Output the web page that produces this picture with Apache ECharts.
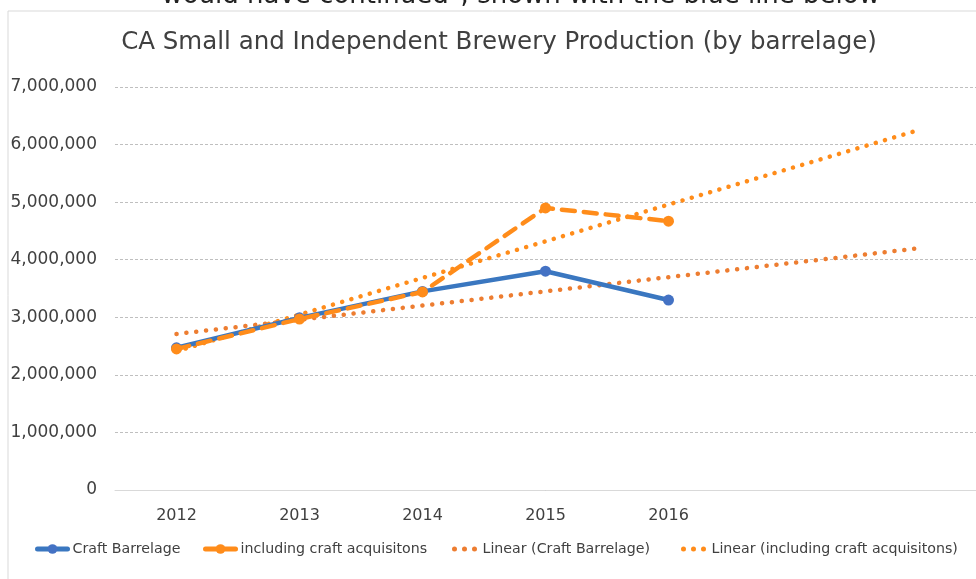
<!DOCTYPE html>
<html>
<head>
<meta charset="utf-8">
<script src="https://cdn.jsdelivr.net/npm/echarts@6/dist/echarts.min.js"></script>
<style>
  html, body { margin: 0; padding: 0; background: #fff; }
  #chart { width: 976px; height: 579px; }
</style>
</head>
<body>
<div id="chart"></div>
<script>
// data
const years = ['2012', '2013', '2014', '2015', '2016', '', ''];
const craftBarrelage = [2470000, 2990000, 3450000, 3800000, 3300000];
const withAcquisitions = [2450000, 2970000, 3440000, 4900000, 4670000];
// trend lines: end points at 2012 and at the 7th category slot
const craftTrend = [2710000, null, null, null, null, null, 4190000];
const acqTrend = [2410000, null, null, null, null, null, 6230000];
const yMin = 0, yMax = 7000000, yStep = 1000000;

const font = 'DejaVu Sans';
const dots = 'path://M0,3a3,3 0 1,0 6,0a3,3 0 1,0 -6,0M12,3a3,3 0 1,0 6,0a3,3 0 1,0 -6,0M24,3a3,3 0 1,0 6,0a3,3 0 1,0 -6,0';
const legendText = { fontFamily: font, fontSize: 14.2, color: '#404040' };

// one legend per entry so each sits where the reference puts it
function legendAt(left, item, w, h) {
  return {
    top: 537, left: left, itemWidth: w, itemHeight: h,
    textStyle: legendText, data: [item]
  };
}

const myChart = echarts.init(document.getElementById('chart'));

myChart.setOption({
  animation: false,
  textStyle: { fontFamily: font },
  title: {
    text: 'CA Small and Independent Brewery Production (by barrelage)',
    left: 494,
    textAlign: 'center',
    top: 25,
    textStyle: { fontFamily: font, fontSize: 24.5, fontWeight: 'normal', color: '#404040' }
  },
  graphic: [
    {
      type: 'text', right: 96, top: -17, silent: true,
      style: { text: 'would have continued", shown with the blue line below', font: '26px ' + font, fill: '#222' }
    },
    {
      type: 'rect', shape: { x: 8, y: 11, width: 990, height: 600 },
      style: { fill: 'none', stroke: '#d9d9d9', lineWidth: 1 }, silent: true, z: -1
    }
  ],
  grid: { left: 115, right: 0, top: 87, bottom: 89 },
  legend: [
    legendAt(30, { name: 'Craft Barrelage', lineStyle: { width: 5 } }, 30, 12),
    legendAt(198, { name: 'including craft acquisitons', lineStyle: { width: 5, type: 'solid' } }, 30, 12),
    legendAt(447, { name: 'Linear (Craft Barrelage)', icon: dots, itemStyle: { color: '#ED7D31' } }, 26, 5),
    legendAt(676, { name: 'Linear (including craft acquisitons)', icon: dots, itemStyle: { color: '#FF8C1A' } }, 26, 5)
  ],
  xAxis: {
    type: 'category',
    data: years,
    boundaryGap: true,
    axisLine: { lineStyle: { color: '#d9d9d9', width: 1 } },
    axisTick: { show: false },
    axisLabel: { fontSize: 16, color: '#404040', margin: 18 }
  },
  yAxis: {
    type: 'value',
    min: yMin,
    max: yMax,
    interval: yStep,
    axisLine: { show: false },
    axisTick: { show: false },
    axisLabel: {
      fontSize: 17, color: '#404040', margin: 18,
      verticalAlign: 'middle', lineHeight: 17, padding: [6, 0, 0, 0],
      formatter: v => v.toLocaleString('en-US')
    },
    splitLine: { lineStyle: { color: '#bfbfbf', type: [3, 2], width: 1 } }
  },
  series: [
    {
      name: 'Craft Barrelage', type: 'line', data: craftBarrelage,
      symbol: 'circle', symbolSize: 11, z: 3,
      itemStyle: { color: '#4472C4' },
      lineStyle: { color: '#3A77C0', width: 4.5, cap: 'round' }
    },
    {
      name: 'including craft acquisitons', type: 'line', data: withAcquisitions,
      symbol: 'circle', symbolSize: 11, z: 4,
      itemStyle: { color: '#FF8C1A' },
      lineStyle: { color: '#FF8C1A', width: 4.5, type: [13, 9], cap: 'round' }
    },
    {
      name: 'Linear (Craft Barrelage)', type: 'line', data: craftTrend, connectNulls: true,
      symbol: 'none', z: 2,
      itemStyle: { color: '#ED7D31' },
      lineStyle: { color: '#ED7D31', width: 4.5, type: [0.1, 9.8], cap: 'round' }
    },
    {
      name: 'Linear (including craft acquisitons)', type: 'line', data: acqTrend, connectNulls: true,
      symbol: 'none', z: 2,
      itemStyle: { color: '#FF8C1A' },
      lineStyle: { color: '#FF8C1A', width: 4.5, type: [0.1, 9.5], cap: 'round' }
    }
  ]
});
</script>
</body>
</html>
